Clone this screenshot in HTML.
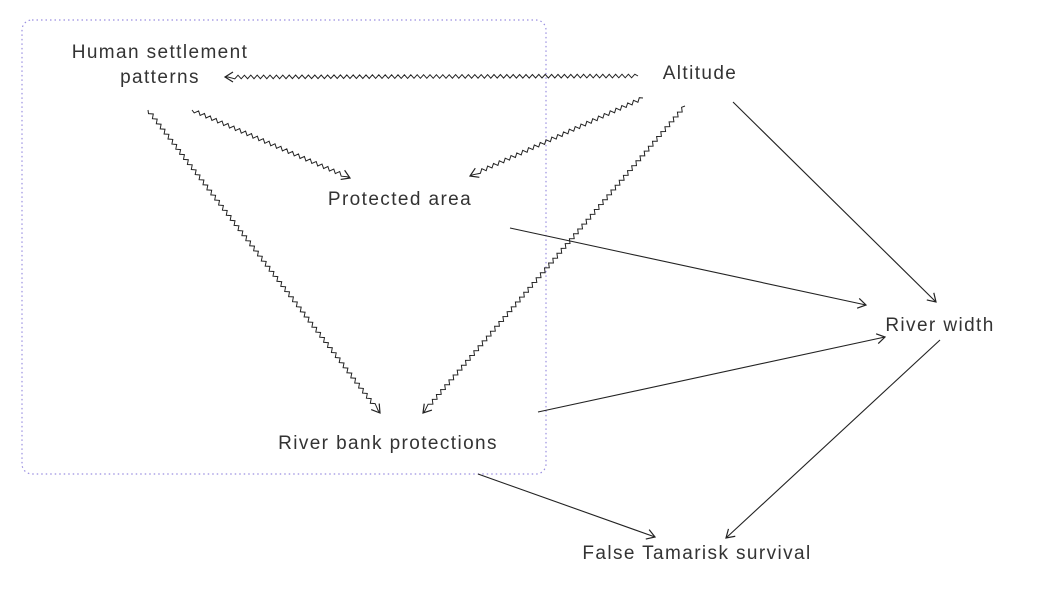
<!DOCTYPE html>
<html><head><meta charset="utf-8"><style>
html,body{margin:0;padding:0;background:#fff;}
svg{display:block;}
text{font-family:"Liberation Sans",sans-serif;font-size:19px;letter-spacing:1.4px;fill:#333;}
</style></head><body>
<svg id="s" width="1044" height="590" xmlns="http://www.w3.org/2000/svg">
<defs><marker id="a" markerWidth="12" markerHeight="12" refX="10" refY="6" orient="auto" markerUnits="userSpaceOnUse"><path d="M2,1 L10,6 L2,11" fill="none" stroke="#222" stroke-width="1.2"/></marker></defs>
<rect x="22" y="20" width="524" height="454" rx="10" fill="none" stroke="#9a8fe0" stroke-width="1.2" stroke-dasharray="1.5,3"/>
<g stroke="#222" stroke-width="1.1" fill="none">
<line x1="733" y1="102" x2="936" y2="302" marker-end="url(#a)"/>
<line x1="510" y1="228" x2="866" y2="305" marker-end="url(#a)"/>
<line x1="538" y1="412" x2="885" y2="337" marker-end="url(#a)"/>
<line x1="478" y1="474" x2="655" y2="537" marker-end="url(#a)"/>
<line x1="940" y1="340" x2="726" y2="538" marker-end="url(#a)"/>
</g>
<g id="z" stroke="#222" stroke-width="1" fill="none"></g>
<text x="160" y="58" text-anchor="middle">Human settlement</text>
<text x="160" y="83" text-anchor="middle">patterns</text>
<text x="700" y="79" text-anchor="middle">Altitude</text>
<text x="400" y="205" text-anchor="middle">Protected area</text>
<text x="940" y="331" text-anchor="middle">River width</text>
<text x="388" y="449" text-anchor="middle">River bank protections</text>
<text x="697" y="559" text-anchor="middle">False Tamarisk survival</text>
</svg>
<script>
var g=document.getElementById('z');
function zz(x1,y1,x2,y2){
var dx=x2-x1,dy=y2-y1,L=Math.hypot(dx,dy),ux=dx/L,uy=dy/L,nx=-uy,ny=ux;
var d="M"+x1+","+y1,step=3.2,A=1.8,i=1,t;
for(t=step;t<L-8;t+=step,i++){var s=(i%2?A:-A);d+=" L"+(x1+ux*t+nx*s).toFixed(1)+","+(y1+uy*t+ny*s).toFixed(1);}
d+=" L"+(x2-ux*3).toFixed(1)+","+(y2-uy*3).toFixed(1)+" L"+x2+","+y2;
var p=document.createElementNS("http://www.w3.org/2000/svg","path");
p.setAttribute("d",d);p.setAttribute("marker-end","url(#a)");g.appendChild(p);}
zz(638,76,225,77);
zz(192,110,350,178);
zz(148,110,380,413);
zz(643,98,470,176);
zz(685,106,423,413);
</script>
</body></html>
